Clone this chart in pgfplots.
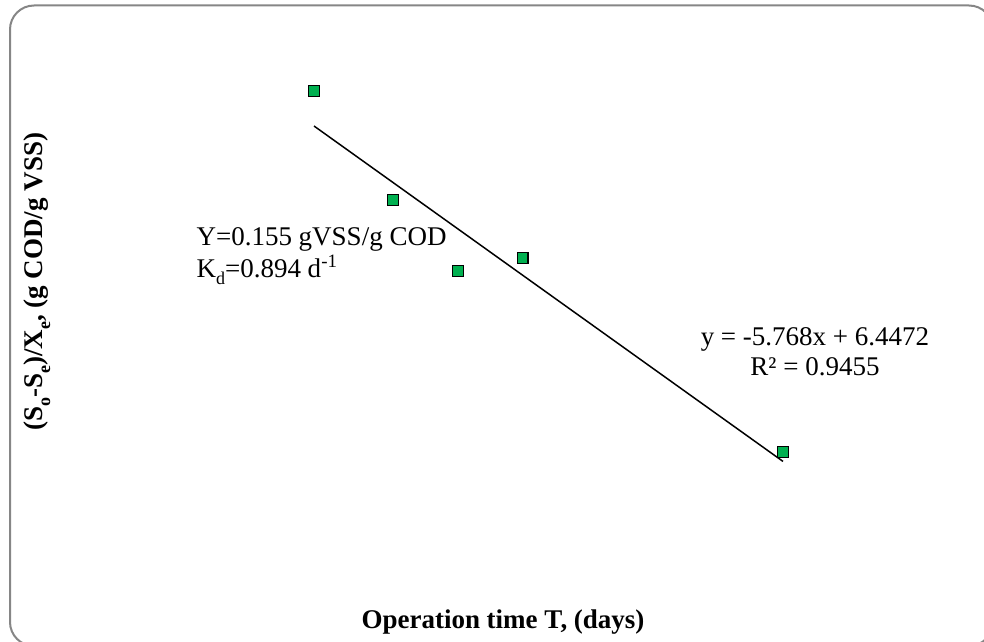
\documentclass[border=0pt]{standalone}
\usepackage{pgfplots}
\pgfplotsset{compat=1.18}
\usepackage{fontspec}
\setmainfont{Liberation Serif}

\definecolor{ptgreen}{HTML}{00B050}
\definecolor{framegray}{HTML}{868686}
% Word-like subscript: two thirds size, lowered
\newcommand{\sub}[1]{\raisebox{-0.28em}{\fontsize{18}{18}\selectfont #1}}

\begin{document}
\begin{tikzpicture}
  \useasboundingbox (0,0) rectangle (984pt,641pt);
  % rounded chart frame, cut by the page at right and bottom
  \draw[framegray, line width=2pt, rounded corners=24pt] (10pt,-5pt) rectangle (993pt,635.5pt);
  \begin{axis}[
      at={(60pt,61pt)}, anchor=south west,
      scale only axis,
      width=886pt, height=540pt,
      xmin=-0.2333, xmax=1.2781,
      ymin=-0.9525, ymax=6.4768,
      axis line style={draw=none},
      tick style={draw=none},
      xtick=\empty, ytick=\empty,
      clip=false,
      font=\fontsize{27}{32}\selectfont,
      xlabel={\textbf{Operation time T, (days)}},
      ylabel={\textbf{(S\sub{o}-S\sub{e})/X\sub{e}, (g COD/g VSS)}},
      xlabel style={at={(rel axis cs:0.5,-0.0889)}, anchor=base},
      ylabel style={at={(rel axis cs:-0.026,0.552)}, anchor=center},
    ]
    % linear trend line
    \addplot[black, line width=1.5pt] coordinates {(0.2,5.2936) (1.0,0.6792)};
    % measured points
    \addplot[only marks, mark=square*, mark size=5.4pt,
             mark options={fill=ptgreen, draw=black, line width=1.3pt}] coordinates {
      (0.200,5.775) (0.335,4.275) (0.446,3.299) (0.556,3.478) (1.000,0.808)
    };
    \node[anchor=base] at (axis cs:1.0546,2.2806) {y = -5.768x + 6.4472};
    \node[anchor=base] at (axis cs:1.0546,1.8679) {R² = 0.9455};
    \node[anchor=base west] at (axis cs:-0.0064,3.6564) {Y=0.155 gVSS/g COD};
    \node[anchor=base west] at (axis cs:-0.0064,3.2161) {K\sub{d}=0.894 d\textsuperscript{-1}};
  \end{axis}
\end{tikzpicture}
\end{document}
